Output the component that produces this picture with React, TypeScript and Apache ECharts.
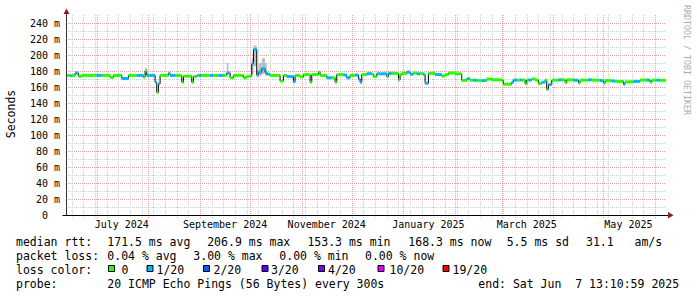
import React, { useEffect, useRef } from 'react';
import * as echarts from 'echarts';

// ---------- data ----------
const startTime = '2024-06-12 13:10';
const endTime = '2025-06-07 13:10';

// median RTT as step segments: start of each segment, median (ms), pings lost out of 20
const segStart = [
  '2024-06-12 13:10', '2024-06-15', '2024-06-16', '2024-06-18', '2024-06-20', '2024-06-22',
  '2024-07-01', '2024-07-04', '2024-07-09', '2024-07-11', '2024-07-16', '2024-07-20',
  '2024-07-25', '2024-07-29', '2024-07-30', '2024-07-31', '2024-08-05', '2024-08-06',
  '2024-08-07', '2024-08-08', '2024-08-13', '2024-08-14', '2024-08-17', '2024-08-21',
  '2024-08-22', '2024-08-27', '2024-08-28', '2024-08-30', '2024-08-31', '2024-09-02',
  '2024-09-07', '2024-09-09', '2024-09-12', '2024-09-15', '2024-09-17', '2024-09-19',
  '2024-09-21', '2024-09-27', '2024-09-29', '2024-10-02', '2024-10-03', '2024-10-05',
  '2024-10-06', '2024-10-08', '2024-10-10', '2024-10-11', '2024-10-13', '2024-10-19',
  '2024-10-21', '2024-10-23', '2024-10-27', '2024-10-28', '2024-10-31', '2024-11-02',
  '2024-11-06', '2024-11-07', '2024-11-11', '2024-11-12', '2024-11-16', '2024-11-19',
  '2024-11-21', '2024-11-22', '2024-11-26', '2024-11-28', '2024-11-30', '2024-12-03',
  '2024-12-05', '2024-12-06', '2024-12-07', '2024-12-10', '2024-12-13', '2024-12-14',
  '2024-12-16', '2024-12-22', '2024-12-23', '2024-12-25', '2024-12-29', '2024-12-30',
  '2024-12-31', '2025-01-03', '2025-01-05', '2025-01-07', '2025-01-09', '2025-01-11',
  '2025-01-13', '2025-01-14', '2025-01-16', '2025-01-20', '2025-01-24', '2025-01-26',
  '2025-01-28', '2025-02-01', '2025-02-05', '2025-02-08', '2025-02-10', '2025-02-12',
  '2025-02-14', '2025-02-17', '2025-02-19', '2025-02-20', '2025-02-23', '2025-03-01',
  '2025-03-02', '2025-03-07', '2025-03-08', '2025-03-10', '2025-03-12', '2025-03-13',
  '2025-03-15', '2025-03-16', '2025-03-17', '2025-03-19', '2025-03-21', '2025-03-23',
  '2025-03-25', '2025-03-27', '2025-03-28', '2025-03-29', '2025-03-31', '2025-04-04',
  '2025-04-06', '2025-04-08', '2025-04-09', '2025-04-13', '2025-04-16', '2025-04-17',
  '2025-04-22', '2025-04-24', '2025-04-29', '2025-05-01', '2025-05-02', '2025-05-06',
  '2025-05-08', '2025-05-13', '2025-05-14', '2025-05-19', '2025-05-23', '2025-05-27',
  '2025-05-29', '2025-05-30', '2025-06-02', '2025-06-04',
];
const median = [
  174.5, 174, 174.5, 177.5, 173.5, 174.5,
  174.5, 174.5, 172, 174.5, 170.5, 174.5,
  174.5, 172.5, 180, 174.5, 166, 153.3,
  164, 174.5, 177, 174.5, 174.5, 166,
  173.5, 166, 173, 174.5, 174.5, 174.5,
  174.5, 174.5, 174.5, 174.5, 177.5, 171.5,
  174.5, 171.5, 173.5, 189, 206.9, 175,
  178.5, 183, 178.5, 176, 174.5, 167.5,
  174.5, 173, 166.5, 174.5, 172.5, 175.5,
  166, 175.5, 178.5, 174.5, 171.5, 171.5,
  166, 175.5, 175, 171.5, 174.5, 175,
  170, 166, 175.5, 176.7, 176, 173,
  176.5, 173, 177, 177, 169, 175.5,
  177, 178.7, 176, 177.5, 176.5, 177,
  175.5, 164.7, 177, 175.5, 173.7, 175.5,
  177.5, 176.5, 168.3, 170.2, 168.5, 168.5,
  168, 168, 168, 170, 169, 168,
  163.5, 166, 168.7, 168.7, 168.7, 168.7,
  164, 168.7, 168.7, 170, 168.7, 164.5,
  166, 168.5, 157, 163, 168.5, 169,
  169, 165.5, 169, 168.5, 165, 168.5,
  169, 168.5, 168, 165, 168, 167.5,
  167, 163.5, 166.5, 167, 168.7, 168.5,
  166, 168.5, 168.5, 168.3,
];
const lossCount = [
  0, 1, 0, 1, 0, 0,
  1, 0, 0, 0, 1, 0,
  1, 0, 0, 1, 1, 0,
  1, 0, 1, 1, 0, 0,
  0, 0, 0, 0, 1, 0,
  1, 0, 1, 0, 1, 0,
  0, 0, 0, 1, 1, 1,
  1, 1, 1, 1, 0, 0,
  0, 1, 1, 0, 0, 0,
  0, 0, 0, 0, 1, 0,
  0, 0, 1, 1, 0, 1,
  1, 1, 0, 1, 0, 0,
  1, 0, 1, 0, 0, 0,
  0, 1, 1, 0, 1, 0,
  1, 1, 0, 1, 0, 0,
  0, 0, 0, 1, 0, 1,
  0, 1, 0, 0, 0, 0,
  0, 1, 1, 0, 1, 0,
  0, 0, 1, 0, 0, 0,
  1, 0, 0, 1, 0, 1,
  0, 0, 0, 1, 0, 0,
  1, 0, 1, 0, 0, 1,
  0, 1, 0, 1, 0, 1,
  0, 0, 1, 0,
];

// smoke (spread of the pings) where it shows above the median line
const smokeStart = ['2024-07-30', '2024-09-17', '2024-10-02', '2024-10-03', '2024-10-05', '2024-10-06', '2024-10-08', '2024-10-10'];
const smokeEnd = ['2024-07-31', '2024-09-18', '2024-10-03', '2024-10-05', '2024-10-06', '2024-10-08', '2024-10-10', '2024-10-11'];
const smokeLo = [176, 175, 176, 186, 172, 174, 176, 174];
const smokeHi = [184, 190, 196, 212, 182, 190, 196, 190];

// axis grid and labels
const monthStarts = [
  '2024-07-01', '2024-08-01', '2024-09-01', '2024-10-01', '2024-11-01', '2024-12-01',
  '2025-01-01', '2025-02-01', '2025-03-01', '2025-04-01', '2025-05-01', '2025-06-01',
];
const firstWeekLine = '2024-06-16';
const monthLabels = ['July 2024', 'September 2024', 'November 2024', 'January 2025', 'March 2025', 'May 2025'];
const monthLabelAt = ['2024-07-16', '2024-09-16', '2024-11-16', '2025-01-16', '2025-03-16', '2025-05-16'];
const yMax = 250;
const yStep = 10;
const yLabelStep = 20;
const yLabelTop = 240;

// legend
const lossLevels = [0, 1, 2, 3, 4, 10, 19];
const lossLabels = ['0', '1/20', '2/20', '3/20', '4/20', '10/20', '19/20'];
const lossColors = ['#26ff00', '#00b8ff', '#0059ff', '#5e00ff', '#7e00ff', '#dd00ff', '#ff0000'];
const rttLine = ['median rtt:', '171.5 ms avg', '206.9 ms max', '153.3 ms min', '168.3 ms now', '5.5 ms sd', '31.1   am/s'];
const lossLine = ['packet loss:', '0.04 % avg', '3.00 % max', '0.00 % min', '0.00 % now'];
const colorTitle = 'loss color:';
const probeLine = ['probe:', '20 ICMP Echo Pings (56 Bytes) every 300s', 'end: Sat Jun  7 13:10:59 2025'];
const yTitle = 'Seconds';
const watermark = 'RRDTOOL / TOBI OETIKER';

// ---------- helpers ----------
function ts(s: string): number {
  const [d, t] = s.split(' ');
  const [y, m, dd] = d.split('-').map(Number);
  let hh = 0, mm = 0;
  if (t) { const p = t.split(':').map(Number); hh = p[0]; mm = p[1]; }
  return new Date(y, m - 1, dd, hh, mm).getTime();
}
function colorFor(n: number): string {
  let c = lossColors[0];
  for (let i = 0; i < lossLevels.length; i++) if (n >= lossLevels[i]) c = lossColors[i];
  return c;
}

const MONO = 'DejaVu Sans Mono';
const MAJOR = '#e79d9d';
const MINOR = '#cdcdcd';

export default function App() {
  const ref = useRef<HTMLDivElement>(null);
  useEffect(() => {
    if (!ref.current) return;
    const chart = echarts.init(ref.current, null, { renderer: 'svg' });
    const t0 = ts(startTime);
    const t1 = ts(endTime);

    const segEnds = segStart.map((_, i) => (i + 1 < segStart.length ? ts(segStart[i + 1]) : t1));
    const segData = segStart.map((s, i) => [ts(s), segEnds[i], median[i], lossCount[i]]);
    const stepData = segStart.map((s, i) => [ts(s), median[i]]);
    stepData.push([t1, median[median.length - 1]]);
    const smokeData = smokeStart.map((s, i) => [ts(s), ts(smokeEnd[i]), smokeLo[i], smokeHi[i]]);

    const gridData: number[][] = [];
    const wk = new Date(ts(firstWeekLine));
    while (wk.getTime() < t1) {
      gridData.push([wk.getTime(), 0]);
      wk.setDate(wk.getDate() + 7);
    }
    monthStarts.forEach((m) => gridData.push([ts(m), 1]));

    const labelTs = monthLabelAt.map(ts);

    const L = 66, T = 15, W = 600, H = 200;

    const graphic: any[] = [];
    const txt = (x: number, y: number, text: string) => ({
      type: 'text', x, y, silent: true,
      style: {
        text, fontFamily: MONO, fontSize: 11.5, fill: '#000',
        align: 'left', verticalAlign: 'middle', textAlign: 'left', textVerticalAlign: 'middle',
      },
    });
    const rttX = [16, 107.3, 207.2, 307.4, 408.3, 506.7, 586];
    rttLine.forEach((s, i) => graphic.push(txt(rttX[i], 241.5, s)));
    const lossX = [16, 107.3, 193.3, 279.3, 365];
    lossLine.forEach((s, i) => graphic.push(txt(lossX[i], 255.6, s)));
    graphic.push(txt(16, 269.6, colorTitle));
    const sqX = [108.5, 147, 203.5, 262, 318.5, 378, 443];
    const lbX = [121.5, 156.5, 213.5, 271, 328, 389.5, 452.5];
    lossLabels.forEach((s, i) => {
      graphic.push({
        type: 'rect', silent: true,
        shape: { x: sqX[i], y: 265.5, width: 6, height: 6 },
        style: { fill: lossColors[i], stroke: '#000', lineWidth: 1 },
      });
      graphic.push(txt(lbX[i], 269.6, s));
    });
    const probeX = [16, 107.3, 478.3];
    probeLine.forEach((s, i) => graphic.push(txt(probeX[i], 283.8, s)));
    graphic.push({
      type: 'text', x: 10.5, y: 114, rotation: Math.PI / 2, silent: true,
      style: { text: yTitle, fontFamily: MONO, fontSize: 11.5, fill: '#000', align: 'center', verticalAlign: 'middle', textAlign: 'center', textVerticalAlign: 'middle' },
    });
    graphic.push({
      type: 'text', x: 686.5, y: 60, rotation: -Math.PI / 2, silent: true,
      style: { text: watermark, fontFamily: MONO, fontSize: 8.3, fill: '#ababab', align: 'center', verticalAlign: 'middle', textAlign: 'center', textVerticalAlign: 'middle' },
    });
    // axis lines, extensions and arrows
    graphic.push({ type: 'line', silent: true, z: 10, shape: { x1: 62.5, y1: 215.5, x2: 669, y2: 215.5 }, style: { stroke: '#000', lineWidth: 1 } });
    graphic.push({ type: 'line', silent: true, z: 10, shape: { x1: 66.5, y1: 12, x2: 66.5, y2: 215 }, style: { stroke: '#333', lineWidth: 1 } });
    graphic.push({ type: 'polygon', silent: true, z: 10, shape: { points: [[63.5, 14], [69.5, 14], [66.5, 8.5]] }, style: { fill: '#8f1f1f' } });
    graphic.push({ type: 'polygon', silent: true, z: 10, shape: { points: [[668, 212], [668, 218.5], [673.5, 215.3]] }, style: { fill: '#8f1f1f' } });

    const option: any = {
      animation: false,
      backgroundColor: '#ffffff',
      grid: { left: L, top: T, width: W, height: H, containLabel: false },
      xAxis: {
        type: 'value', min: t0, max: t1, scale: true,
        axisLine: { show: false },
        axisTick: { show: false },
        splitLine: { show: false },
        axisLabel: {
          customValues: labelTs,
          formatter: (v: number) => {
            let best = 0, bd = Infinity;
            labelTs.forEach((t, i) => { const d = Math.abs(t - v); if (d < bd) { bd = d; best = i; } });
            return monthLabels[best];
          },
          fontFamily: MONO, fontSize: 10, color: '#000', margin: 4, hideOverlap: false,
        },
      },
      yAxis: {
        type: 'value', min: 0, max: yMax, interval: yStep,
        axisLine: { show: false },
        axisTick: { show: false },
        splitLine: { show: true, showMaxLine: false, lineStyle: { color: [MAJOR, MINOR], width: 1, type: [1, 1] } },
        axisLabel: {
          fontFamily: MONO, fontSize: 10, color: '#000', margin: 6,
          formatter: (v: number) => {
            if (v % yLabelStep !== 0 || v > yLabelTop) return '';
            return v === 0 ? '0  ' : `${v} m`;
          },
        },
      },
      series: [
        {
          type: 'custom', name: 'grid', silent: true, clip: false, z: 1,
          data: gridData, encode: { x: 0, y: 1 },
          renderItem: (params: any, api: any) => {
            const x = Math.round(api.coord([api.value(0), 0])[0]) + 0.5;
            const cs = params.coordSys;
            const major = api.value(1) === 1;
            return {
              type: 'line',
              z2: major ? 2 : 1,
              shape: { x1: x, y1: cs.y, x2: x, y2: cs.y + cs.height + 3 },
              style: { stroke: major ? MAJOR : MINOR, lineWidth: 1, lineDash: [1, 1] },
            };
          },
        },
        {
          type: 'custom', name: 'smoke', silent: true, z: 2,
          data: smokeData, encode: { x: [0, 1], y: [2, 3] },
          renderItem: (_p: any, api: any) => {
            const a = api.coord([api.value(0), api.value(3)]);
            const b = api.coord([api.value(1), api.value(2)]);
            return { type: 'rect', shape: { x: a[0], y: a[1], width: b[0] - a[0], height: b[1] - a[1] }, style: { fill: '#bdbdbd' } };
          },
        },
        {
          type: 'line', name: 'median', step: 'end', z: 3, silent: true,
          data: stepData, symbol: 'none',
          lineStyle: { color: '#000', width: 1 },
        },
        {
          type: 'custom', name: 'loss', silent: true, z: 4,
          data: segData, encode: { x: [0, 1], y: 2 },
          renderItem: (_p: any, api: any) => {
            const a = api.coord([api.value(0), api.value(2)]);
            const b = api.coord([api.value(1), api.value(2)]);
            return {
              type: 'rect',
              shape: { x: a[0], y: a[1] - 1.5, width: Math.max(b[0] - a[0], 1), height: 3 },
              style: { fill: colorFor(api.value(3)) },
            };
          },
        },
      ],
      graphic,
    };
    chart.setOption(option);
    return () => chart.dispose();
  }, []);
  return (
    <div
      ref={ref}
      style={{ position: 'absolute', left: 0, top: 0, width: 697, height: 297, background: '#fff' }}
    />
  );
}
